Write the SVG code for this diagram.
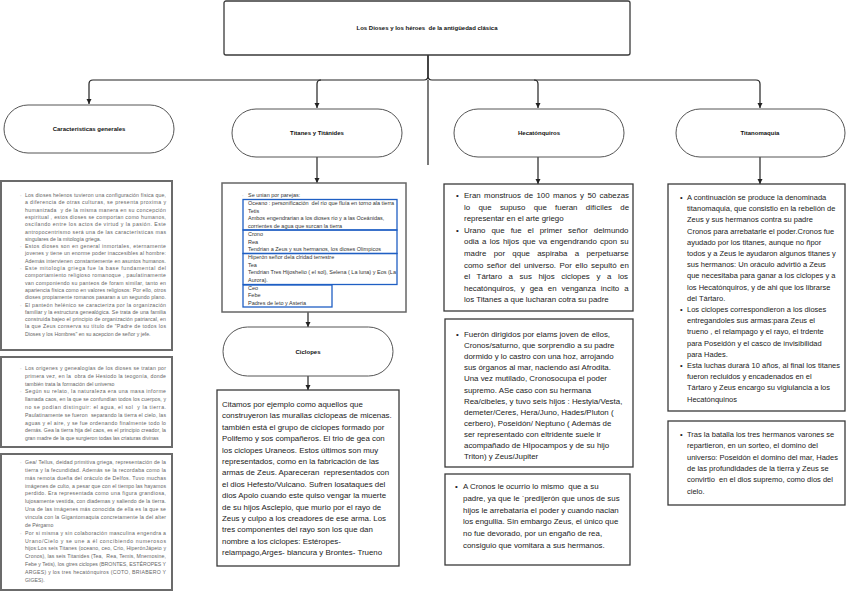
<svg xmlns="http://www.w3.org/2000/svg" width="848" height="591" viewBox="0 0 848 591">
<style>
text{font-family:"Liberation Sans",Arial,sans-serif;white-space:pre}
.box{fill:#fff;stroke:#3a3a3a;stroke-width:1.3}
.lbox{fill:#fff;stroke:#6b6b6b;stroke-width:2}
.pill{fill:#fff;stroke:#555;stroke-width:1}
.blue{fill:none;stroke:#1f5fc4;stroke-width:1.3}
.t8{font-size:7.9px;fill:#222}
.t75{font-size:7.5px;fill:#222}
.t5{font-size:5.2px;fill:#666}
.b5{font-size:4.5px;fill:#aaa}
.t55{font-size:5.5px;fill:#333}
.hd{font-weight:bold;font-size:6px;fill:#111;text-anchor:middle}
.con{fill:none;stroke:#222;stroke-width:1.2}
</style>
<defs>
<marker id="ah" markerWidth="6" markerHeight="6" refX="5" refY="3" orient="auto" markerUnits="userSpaceOnUse"><path d="M0,0.5 L5,3 L0,5.5 z" fill="#222"/></marker>
</defs>

<g id="connectors">
<path class="con" d="M428,55 V76 Q428,80 424,80 H93 Q89,80 89,84 V104" marker-end="url(#ah)"/>
<path class="con" d="M428,55 V76 Q428,80 432,80 H756 Q760,80 760,84 V108" marker-end="url(#ah)"/>
<path class="con" d="M321,80 Q317,80 317,84 V108" marker-end="url(#ah)"/>
<path class="con" d="M534,80 Q538,80 538,84 V108" marker-end="url(#ah)"/>
<path class="con" d="M428,80 V165"/>
<path class="con" d="M317,157 V183" marker-end="url(#ah)"/>
<path class="con" d="M538,157 V184" marker-end="url(#ah)"/>
<path class="con" d="M760,157 V184" marker-end="url(#ah)"/>
<path class="con" d="M308,312 V327" marker-end="url(#ah)"/>
<path class="con" d="M308,376 V390" marker-end="url(#ah)"/>
</g>

<g id="title">
<rect class="box" x="224" y="1" width="406" height="54" rx="2"/>
<text class="hd" x="427" y="30" font-size="6.6">Los Dioses y los héroes  de la antigüedad clásica</text>
</g>

<g id="n-caracteristicas">
<rect class="pill" x="4" y="105" width="170" height="48" rx="24"/>
<text class="hd" x="89" y="131">Caracteristicas generales</text>
</g>
<g id="n-titanes">
<rect class="pill" x="232" y="109" width="170" height="48" rx="24"/>
<text class="hd" x="317" y="135">Titanes y Titánides</text>
</g>
<g id="n-hecatonquiros">
<rect class="pill" x="454" y="109" width="170" height="48" rx="24"/>
<text class="hd" x="539" y="135">Hecatónquiros</text>
</g>
<g id="n-titanomaquia">
<rect class="pill" x="676" y="109" width="169" height="48" rx="24"/>
<text class="hd" x="760" y="135">Titanomaquia</text>
</g>
<g id="n-ciclopes">
<rect class="pill" x="223" y="327" width="170" height="49" rx="24.5"/>
<text class="hd" x="308" y="354">Ciclopes</text>
</g>

<g id="car-box1">
<rect class="lbox" x="1" y="181" width="171" height="169"/>
<text class="b5" x="20" y="197">◦</text>
<text class="t5" x="25" y="197" textLength="141" lengthAdjust="spacing">Los dioses helenos tuvieron una configuración física que,</text>
<text class="t5" x="25" y="204.3" textLength="141" lengthAdjust="spacing">a diferencia de otras culturas, se presenta proxima y</text>
<text class="t5" x="25" y="211.6" textLength="141" lengthAdjust="spacing">humanizada  y de la misma manera en su concepción</text>
<text class="t5" x="25" y="218.9" textLength="141" lengthAdjust="spacing">espiritual , estos dioses se comportan como humanos,</text>
<text class="t5" x="25" y="226.2" textLength="141" lengthAdjust="spacing">oscilando entre los actos de virtud y la pasión. Este</text>
<text class="t5" x="25" y="233.5" textLength="141" lengthAdjust="spacing">antropocentrismo será una de las características mas</text>
<text class="t5" x="25" y="240.8">singulares de la mitología griega.</text>
<text class="b5" x="20" y="248.1">◦</text>
<text class="t5" x="25" y="248.1" textLength="141" lengthAdjust="spacing">Estos dioses son en general inmortales, eternamente</text>
<text class="t5" x="25" y="255.4" textLength="141" lengthAdjust="spacing">jovenes y tiene un enorme poder inaccesibles al hombre:</text>
<text class="t5" x="25" y="262.7" textLength="141" lengthAdjust="spacing">Además intervienen constantemente en asuntos humanos.</text>
<text class="b5" x="20" y="270">◦</text>
<text class="t5" x="25" y="270" textLength="141" lengthAdjust="spacing">Este mitología griega fue la base fundamental del</text>
<text class="t5" x="25" y="277.3" textLength="141" lengthAdjust="spacing">comportamiento religioso romanoque , paulatinamente</text>
<text class="t5" x="25" y="284.6" textLength="141" lengthAdjust="spacing">van componiendo su panteos de foram similar, tanto en</text>
<text class="t5" x="25" y="291.9" textLength="141" lengthAdjust="spacing">apariencia física como en valores religiosos: Por ello, otros</text>
<text class="t5" x="25" y="299.2" textLength="141" lengthAdjust="spacing">dioses propiamente romanos pasaran a un segundo plano.</text>
<text class="b5" x="20" y="306.5">◦</text>
<text class="t5" x="25" y="306.5" textLength="141" lengthAdjust="spacing">El panteón helénico se caracteriza por la organización</text>
<text class="t5" x="25" y="313.8" textLength="141" lengthAdjust="spacing">familiar y la estructura genealógica. Se trata de una familia</text>
<text class="t5" x="25" y="321.1" textLength="141" lengthAdjust="spacing">construida bajeo el principio de organización patriarcal, en</text>
<text class="t5" x="25" y="328.4" textLength="141" lengthAdjust="spacing">la que Zeus conserva su título de "Padre de todos los</text>
<text class="t5" x="25" y="335.7">Dioses y los Hombres" en su acepcion de señor y jefe.</text>
</g>

<g id="car-box2">
<rect class="lbox" x="1" y="357" width="171" height="90"/>
<text class="b5" x="20" y="370">◦</text>
<text class="t5" x="25" y="370" textLength="141" lengthAdjust="spacing">Los origenes y genealogías de los dioses se tratan por</text>
<text class="t5" x="25" y="377.8" textLength="141" lengthAdjust="spacing">primera vez, en la  obra de Hesiodo la teogonía, donde</text>
<text class="t5" x="25" y="385.6">también trata la formación del universo</text>
<text class="b5" x="20" y="393.4">◦</text>
<text class="t5" x="25" y="393.4" textLength="141" lengthAdjust="spacing">Según su relato, la naturaleza era una masa informe</text>
<text class="t5" x="25" y="401.2" textLength="141" lengthAdjust="spacing">llamada caos, en la que se confundían todos los cuerpos, y</text>
<text class="t5" x="25" y="409" textLength="141" lengthAdjust="spacing">no se podían distinguir: el agua, el sol  y la tierra.</text>
<text class="t5" x="25" y="416.8" textLength="141" lengthAdjust="spacing">Paulatinamente se fueron  separando la tierra el cielo, las</text>
<text class="t5" x="25" y="424.6" textLength="141" lengthAdjust="spacing">aguas y el aire, y se fue ordenando finalmente todo lo</text>
<text class="t5" x="25" y="432.4" textLength="141" lengthAdjust="spacing">demás. Gea la tierra hija del caos, es el principio creador, la</text>
<text class="t5" x="25" y="440.2">gran madre de la que surgieron todas las criaturas divinas</text>
</g>

<g id="car-box3">
<rect class="lbox" x="1" y="454" width="171" height="136"/>
<text class="b5" x="20" y="464">◦</text>
<text class="t5" x="25" y="464" textLength="141" lengthAdjust="spacing">Gea/ Tellus, deidad primitiva griega, representación de la</text>
<text class="t5" x="25" y="471.9" textLength="141" lengthAdjust="spacing">tierra y la fecundidad. Además se la recordaba como la</text>
<text class="t5" x="25" y="479.7" textLength="141" lengthAdjust="spacing">más remota dueña del oráculo de Delfos. Tuvo muchas</text>
<text class="t5" x="25" y="487.6" textLength="141" lengthAdjust="spacing">imágenes de culto, a pesar que con el tiempo las hayamos</text>
<text class="t5" x="25" y="495.4" textLength="141" lengthAdjust="spacing">perdido. Era representada como una figura grandiosa,</text>
<text class="t5" x="25" y="503.3" textLength="141" lengthAdjust="spacing">lujosamente vestida, con diademas y saliendo de la tierra.</text>
<text class="t5" x="25" y="511.1" textLength="141" lengthAdjust="spacing">Una de las imágenes más conocida de ella es la que se</text>
<text class="t5" x="25" y="519" textLength="141" lengthAdjust="spacing">vincula con la Gigantomaquia concretamente la del alter</text>
<text class="t5" x="25" y="526.8">de Pérgamo</text>
<text class="b5" x="20" y="534.7">◦</text>
<text class="t5" x="25" y="534.7" textLength="141" lengthAdjust="spacing">Por si misma y sin colaboración masculina engendra a</text>
<text class="t5" x="25" y="542.5" textLength="141" lengthAdjust="spacing">Urano/Cielo y se une a él concibiendo numerosos</text>
<text class="t5" x="25" y="550.4" textLength="141" lengthAdjust="spacing">hijos:Los seis Titanes (oceano, ceo, Crio, HiperónJápeto y</text>
<text class="t5" x="25" y="558.2" textLength="141" lengthAdjust="spacing">Cronos), las seis Titanides (Tea,  Rea, Temis, Mnemosine,</text>
<text class="t5" x="25" y="566.1" textLength="141" lengthAdjust="spacing">Febe y Tetis), los gtres ciclopes (BRONTES, ESTÉROPES Y</text>
<text class="t5" x="25" y="573.9" textLength="141" lengthAdjust="spacing">ARGES) y los tres hecatónquiros (COTO, BRIABERO Y</text>
<text class="t5" x="25" y="581.8">GIGES).</text>
</g>

<g id="titanes-box">
<rect x="222" y="183" width="184" height="129" fill="#fff" stroke="#666" stroke-width="1.5"/>
<rect class="blue" x="243" y="199.5" width="154" height="30.5"/>
<rect class="blue" x="243" y="230" width="154" height="23.5"/>
<rect class="blue" x="243" y="253.5" width="154" height="31"/>
<rect class="blue" x="243" y="285" width="89" height="22"/>
<text class="b5" x="242" y="197">◦</text>
<text class="t55" x="248" y="197">Se unian por parejas:</text>
<text class="t55" x="248" y="205">Oceano : personificación  del río que fluía en torno ala tierra</text>
<text class="t55" x="248" y="212.7">Tetis</text>
<text class="t55" x="248" y="220.4">Ambos engendrarian a los dioses río y a las Oceánidas,</text>
<text class="t55" x="248" y="228.1">corrientes de agua que surcan la tierra</text>
<text class="t55" x="248" y="235.8">Crono</text>
<text class="t55" x="248" y="243.5">Rea</text>
<text class="t55" x="248" y="251.2">Tendrian a Zeus y sus hermanos, los dioses Olimpicos</text>
<text class="t55" x="248" y="258.9">Hiperón señor dela clridad terrestre</text>
<text class="t55" x="248" y="266.6">Tea</text>
<text class="t55" x="248" y="274.3" font-size="5.3">Tendrian Tres Hijoshelio ( el sol), Selena ( La luna) y Eos (La</text>
<text class="t55" x="248" y="282">Aurora).</text>
<text class="t55" x="248" y="289.7">Ceo</text>
<text class="t55" x="248" y="297.4">Febe</text>
<text class="t55" x="248" y="305.1">Padres de leto y Asteria</text>
</g>

<g id="ciclopes-box">
<rect class="box" x="217" y="390" width="182" height="176"/>
<text class="t8" x="222" y="407">Citamos por ejemplo como aquellos que</text>
<text class="t8" x="222" y="418.4">construyeron las murallas ciclopeas de micenas.</text>
<text class="t8" x="222" y="429.8">también está el grupo de ciclopes formado por</text>
<text class="t8" x="222" y="441.2">Polifemo y sos compañeros. El trio de gea con</text>
<text class="t8" x="222" y="452.6">los ciclopes Uraneos. Estos últimos son muy</text>
<text class="t8" x="222" y="464">representados, como en la fabricación de las</text>
<text class="t8" x="222" y="475.4">armas de Zeus. Apareceran  representados con</text>
<text class="t8" x="222" y="486.8">el dios Hefesto/Vulcano. Sufren losataques del</text>
<text class="t8" x="222" y="498.2">dios Apolo cuando este quiso vengar la muerte</text>
<text class="t8" x="222" y="509.6">de su hijos Asclepio, que murio por el rayo de</text>
<text class="t8" x="222" y="521">Zeus y culpo a los creadores de ese arma. Los</text>
<text class="t8" x="222" y="532.4">tres componentes del rayo son los que dan</text>
<text class="t8" x="222" y="543.8">nombre a los ciclopes: Estéropes-</text>
<text class="t8" x="222" y="555.2">relampago,Arges- blancura y Brontes- Trueno</text>
</g>

<g id="hec-box1">
<rect class="box" x="444" y="184" width="189" height="127"/>
<text class="t8" x="456" y="198">•</text>
<text class="t8" x="464" y="198" word-spacing="1.2">Eran monstruos de 100 manos y 50 cabezas</text>
<text class="t8" x="464" y="209.6" word-spacing="6.1">lo que supuso que fueran difíciles de</text>
<text class="t8" x="464" y="221.2">representar en el arte griego</text>
<text class="t8" x="456" y="232.8">•</text>
<text class="t8" x="464" y="232.8" word-spacing="3.8">Urano que fue el primer señor delmundo</text>
<text class="t8" x="464" y="244.4" word-spacing="1">odia a los hijos que va engendrando cpon su</text>
<text class="t8" x="464" y="256" word-spacing="5.1">madre por qque aspiraba a perpetuarse</text>
<text class="t8" x="464" y="267.6" word-spacing="1.3">como señor del universo. Por ello sepultó en</text>
<text class="t8" x="464" y="279.2" word-spacing="4.4">el Tártaro a sus hijos ciclopes y a los</text>
<text class="t8" x="464" y="290.8" word-spacing="2.8">hecatónquiros, y gea en venganza incito a</text>
<text class="t8" x="464" y="302.4">los Titanes a que lucharan cotra su padre</text>
</g>

<g id="hec-box2">
<rect class="box" x="445" y="319" width="188" height="148"/>
<text class="t8" x="456" y="337">•</text>
<text class="t8" x="464" y="337">Fuerón dirigidos por elams joven de ellos,</text>
<text class="t8" x="464" y="348.1">Cronos/saturno, que sorprendio a su padre</text>
<text class="t8" x="464" y="359.2">dormido y lo castro con una hoz, arrojando</text>
<text class="t8" x="464" y="370.3">sus órganos al mar, naciendo así Afrodita.</text>
<text class="t8" x="464" y="381.4">Una vez mutilado, Cronosocupa el poder</text>
<text class="t8" x="464" y="392.5">supremo. ASe caso con su hermana</text>
<text class="t8" x="464" y="403.6">Rea/cibeles, y tuvo seis hijos : Hestyia/Vesta,</text>
<text class="t8" x="464" y="414.7">demeter/Ceres, Hera/Juno, Hades/Pluton (</text>
<text class="t8" x="464" y="425.8">cerbero), Poseidón/ Neptuno ( Además de</text>
<text class="t8" x="464" y="436.9">ser representado con eltridente suele ir</text>
<text class="t8" x="464" y="448">acompañado de HIpocampos y de su hijo</text>
<text class="t8" x="464" y="459.1">Triton) y Zeus/Jupiter</text>
</g>

<g id="hec-box3">
<rect class="box" x="445" y="474" width="185" height="91"/>
<text class="t8" x="455" y="489">•</text>
<text class="t8" x="463" y="489">A Cronos le ocurrio lo mismo  que a su</text>
<text class="t8" x="463" y="500.8">padre, ya que le `predijerón que unos de sus</text>
<text class="t8" x="463" y="512.6">hijos le arrebataría el poder y cuando nacian</text>
<text class="t8" x="463" y="524.4">los engullia. Sin embargo Zeus, el único que</text>
<text class="t8" x="463" y="536.2">no fue devorado, por un engaño de rea,</text>
<text class="t8" x="463" y="548">consiguio que vomitara a sus hermanos.</text>
</g>

<g id="tit-box1">
<rect class="box" x="668" y="184" width="177" height="227"/>
<text class="t75" x="680" y="200">•</text>
<text class="t75" x="687" y="200">A continuación se produce la denominada</text>
<text class="t75" x="687" y="211.2">titanomaquia, que consistio en la rebelión de</text>
<text class="t75" x="687" y="222.4">Zeus y sus hermanos contra su padre</text>
<text class="t75" x="687" y="233.6">Cronos para arrebatarle el poder.Cronos fue</text>
<text class="t75" x="687" y="244.8">ayudado por los titanes, aunque no ñpor</text>
<text class="t75" x="687" y="256">todos y a Zeus le ayudaron algunos titanes y</text>
<text class="t75" x="687" y="267.2">sus hermanos: Un oráculo advirtió a Zeus</text>
<text class="t75" x="687" y="278.4">que necesitaba para ganar a los ciclopes y a</text>
<text class="t75" x="687" y="289.6">los Hecatónquiros, y de ahi que los librarse</text>
<text class="t75" x="687" y="300.8">del Tártaro.</text>
<text class="t75" x="680" y="312">•</text>
<text class="t75" x="687" y="312">Los ciclopes correspondieron a los dioses</text>
<text class="t75" x="687" y="323.2">entregandoles sus armas:para Zeus el</text>
<text class="t75" x="687" y="334.4">trueno , el relampago y el rayo, el trdente</text>
<text class="t75" x="687" y="345.6">para Poseidón y el casco de invisibilidad</text>
<text class="t75" x="687" y="356.8">para Hades.</text>
<text class="t75" x="680" y="368">•</text>
<text class="t75" x="687" y="368">Esta luchas durará 10 años, al final los titanes</text>
<text class="t75" x="687" y="379.2">fueron recluidos y encadenados en el</text>
<text class="t75" x="687" y="390.4">Tártaro y Zeus encargo su vigiulancia a los</text>
<text class="t75" x="687" y="401.6">Hecatónquinos</text>
</g>

<g id="tit-box2">
<rect class="box" x="668" y="421" width="177" height="84"/>
<text class="t75" x="680" y="437">•</text>
<text class="t75" x="687" y="437">Tras la batalla los tres hermanos varones se</text>
<text class="t75" x="687" y="448.3">repartieron, en un sorteo, el domino del</text>
<text class="t75" x="687" y="459.6">universo: Poseidón el domino del mar, Hades</text>
<text class="t75" x="687" y="470.9">de las profundidades de la tierra y Zeus se</text>
<text class="t75" x="687" y="482.2">convirtio  en el dios supremo, como dios del</text>
<text class="t75" x="687" y="493.5">cielo.</text>
</g>
</svg>
